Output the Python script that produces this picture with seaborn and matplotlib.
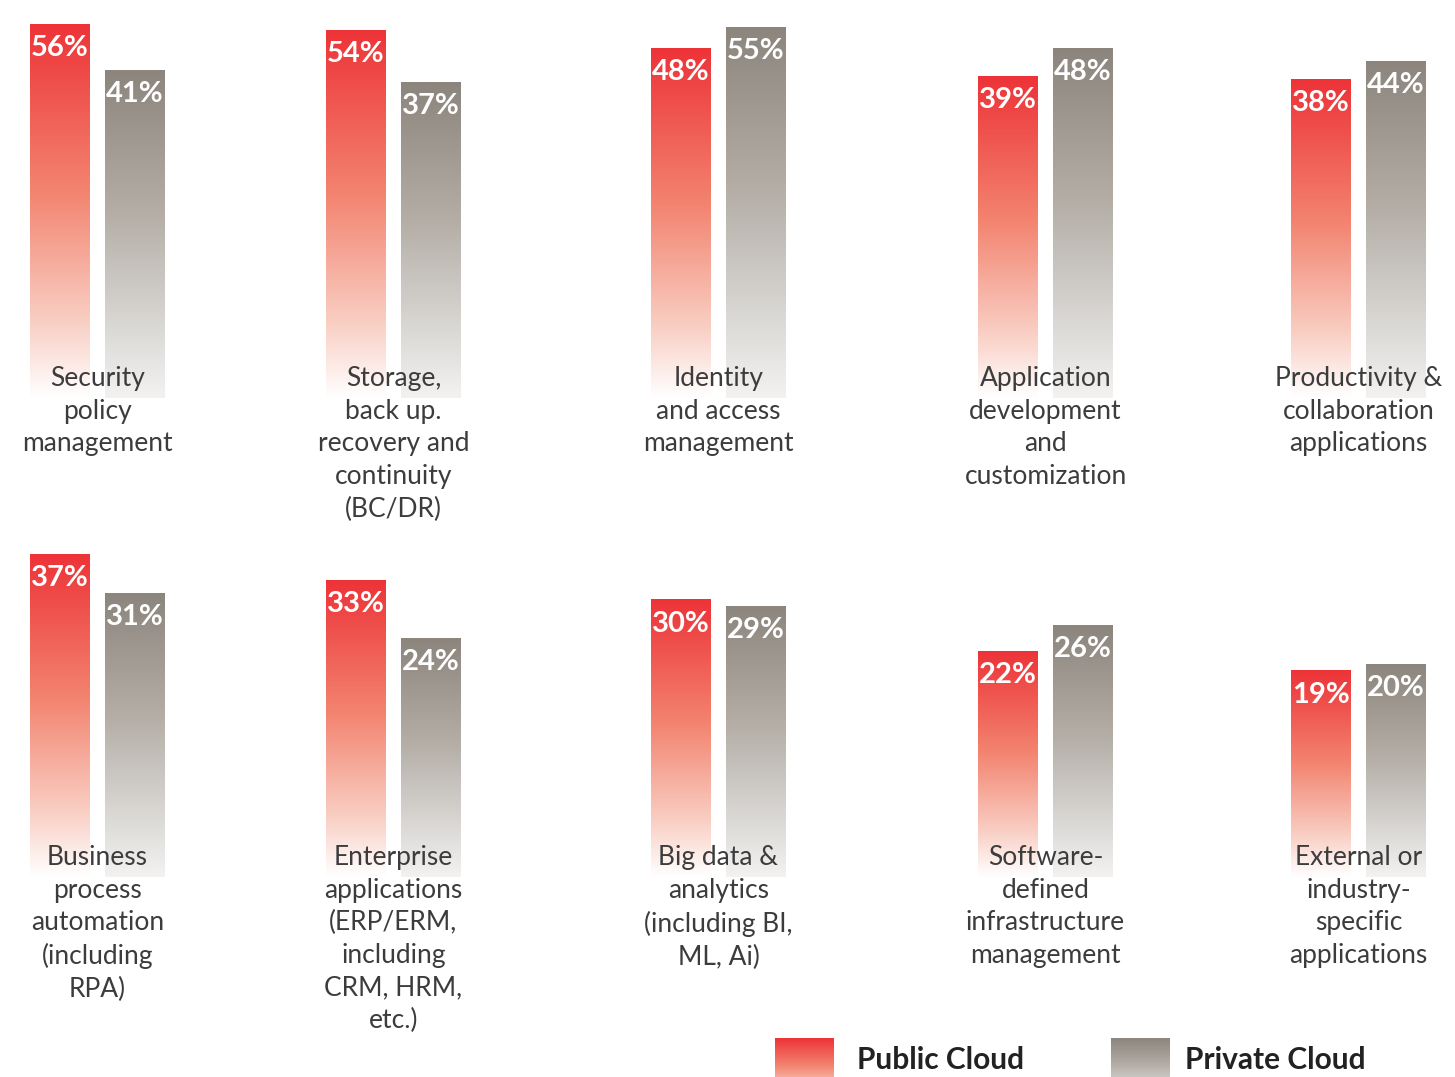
import numpy as np
import matplotlib.pyplot as plt
from matplotlib.colors import LinearSegmentedColormap
import seaborn as sns

# data
categories = [
    "Security\npolicy\nmanagement",
    "Storage,\nback up.\nrecovery and\ncontinuity\n(BC/DR)",
    "Identity\nand access\nmanagement",
    "Application\ndevelopment\nand\ncustomization",
    "Productivity &\ncollaboration\napplications",
    "Business\nprocess\nautomation\n(including\nRPA)",
    "Enterprise\napplications\n(ERP/ERM,\nincluding\nCRM, HRM,\netc.)",
    "Big data &\nanalytics\n(including BI,\nML, Ai)",
    "Software-\ndefined\ninfrastructure\nmanagement",
    "External or\nindustry-\nspecific\napplications",
]
public_cloud = [56, 54, 48, 39, 38, 37, 33, 30, 22, 19]
private_cloud = [41, 37, 55, 48, 44, 31, 24, 29, 26, 20]
series = ["Public Cloud", "Private Cloud"]

# layout (pixels)
W, H = 1455, 1077
panel_left = [30, 326, 651, 978, 1291]
panel_width = 135
rows = [dict(top=0, bottom=398, ylim=(-65.5, 63.7)),
        dict(top=540, bottom=877, ylim=(-13.0, 39.2))]

red_cmap = LinearSegmentedColormap.from_list(
    "red", [(0, "#ED3338"), (0.45, "#F38470"), (0.8, "#F9CFC4"), (1, "#FFFFFF")])
gray_cmap = LinearSegmentedColormap.from_list(
    "gray", [(0, "#8C857D"), (0.45, "#B5AFA8"), (0.8, "#DCDAD7"), (1, "#F3F2F1")])
cmaps = [red_cmap, gray_cmap]

sns.set_theme(style="white")
plt.rcParams["font.family"] = ["Lato", "DejaVu Sans"]

fig = plt.figure(figsize=(W / 100, H / 100), dpi=100)


def px_axes(left, top, width, height):
    return fig.add_axes([left / W, 1 - (top + height) / H, width / W, height / H])


def gradient(cmap, n=256):
    t = np.linspace(0, 1, n)
    return cmap(t)[:, None, :]


for i, cat in enumerate(categories):
    row = rows[i // 5]
    ax = px_axes(panel_left[i % 5], row["top"], panel_width, row["bottom"] - row["top"])
    vals = [public_cloud[i], private_cloud[i]]
    sns.barplot(x=series, y=vals, hue=series, palette=["#ED3338", "#8C857D"],
                width=0.8, legend=False, ax=ax)
    y0 = row["ylim"][0]
    for p, v, cm in zip(ax.patches, vals, cmaps):
        x0 = p.get_x()
        w = p.get_width()
        p.set_y(y0)
        p.set_height(v - y0)
        p.set_facecolor("none")
        p.set_edgecolor("none")
        im = ax.imshow(gradient(cm), extent=[x0, x0 + w, y0, v], aspect="auto",
                       zorder=1, interpolation="bilinear")
        im.set_clip_path(p)
        ax.annotate(f"{v}%", xy=(x0 + w / 2, v), xytext=(0, -8),
                    textcoords="offset points", ha="center", va="top",
                    color="white", fontsize=21, fontweight="bold", zorder=3)
    ax.set_xlim(-0.4, 1.4)
    ax.set_ylim(*row["ylim"])
    ax.axis("off")
    ax.annotate(cat, xy=(0.5, 0), xycoords="axes fraction", xytext=(0, 23),
                textcoords="offset points", ha="center", va="top",
                fontsize=19, fontweight="normal", color="#3C3C3C",
                linespacing=1.38, zorder=4, annotation_clip=False)

# legend
lax = fig.add_axes([0, 0, 1, 1], zorder=-1)
lax.set_xlim(0, W)
lax.set_ylim(H, 0)
lax.axis("off")
for cm, x, label, tx in [(red_cmap, 775, "Public Cloud", 857),
                         (gray_cmap, 1111, "Private Cloud", 1185)]:
    lax.imshow(gradient(cm)[:170], extent=[x, x + 59, H + 2, 1038], aspect="auto",
               interpolation="bilinear")
    lax.text(tx, 1060, label, fontsize=21.5, fontweight="bold", color="#222222",
             va="center", ha="left")
lax.set_xlim(0, W)
lax.set_ylim(H, 0)

fig.savefig("out.png", dpi=100, facecolor="white")
